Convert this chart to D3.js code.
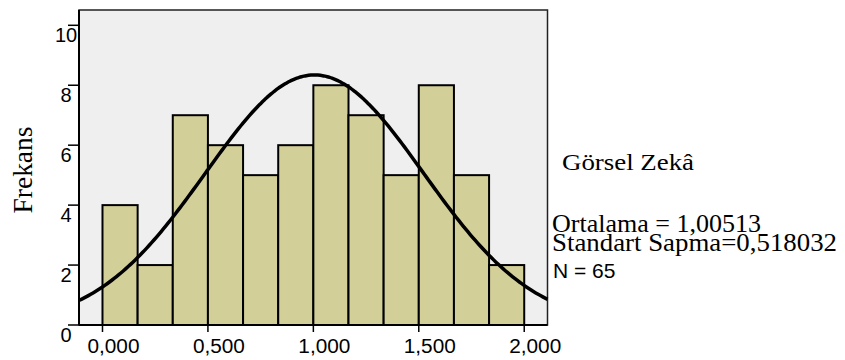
<!DOCTYPE html>
<html><head><meta charset="utf-8">
<script src="https://cdn.jsdelivr.net/npm/d3@7"></script>
<style>body{margin:0;background:#fff}svg{display:block}</style>
</head><body>
<svg id="c" width="845" height="360"></svg>
<script>
// Data
const binStarts = [0, 1/6, 2/6, 3/6, 4/6, 5/6, 1, 7/6, 8/6, 9/6, 10/6, 11/6];
const binWidth = 1/6;
const counts = [4, 2, 7, 6, 5, 6, 8, 7, 5, 8, 5, 2];
const xTicks = [0, 0.5, 1, 1.5, 2];
const xTickLabels = ["0,000", "0,500", "1,000", "1,500", "2,000"];
const yTicks = [0, 2, 4, 6, 8, 10];
const variableName = "Görsel Zekâ";
const mean = 1.00513, sd = 0.518032, n = 65;
const statLines = ["Ortalama = 1,00513", "Standart Sapma=0,518032"];
const nLabel = "N = 65";

const svg = d3.select("#c");
const L = 79, R = 547.5, T = 10, B = 325;
const x = d3.scaleLinear().domain([-0.1114, 2.1104]).range([L, R]);
const y = d3.scaleLinear().domain([0, 10]).range([B, 25.3]);

svg.append("rect").attr("x", L).attr("y", T).attr("width", R - L).attr("height", B - T)
  .attr("fill", "#efefef").attr("stroke", "#222").attr("stroke-width", 1.5);

// bars
svg.append("g").selectAll("rect").data(counts).join("rect")
  .attr("x", (d, i) => x(binStarts[i]))
  .attr("width", (d, i) => x(binStarts[i] + binWidth) - x(binStarts[i]))
  .attr("y", d => y(d)).attr("height", d => y(0) - y(d))
  .attr("fill", "#d3cf99").attr("stroke", "#000").attr("stroke-width", 2);

// normal curve
const scale = n * binWidth;
const dens = v => scale * Math.exp(-0.5 * ((v - mean) / sd) ** 2) / (sd * Math.sqrt(2 * Math.PI));
const xs = d3.range(0, 201).map(i => x.domain()[0] + (x.domain()[1] - x.domain()[0]) * i / 200);
svg.append("path").datum(xs)
  .attr("d", d3.line().x(v => x(v)).y(v => y(dens(v))).curve(d3.curveBasis))
  .attr("fill", "none").attr("stroke", "#000").attr("stroke-width", 3.5);

// axes lines
svg.append("line").attr("x1", L).attr("x2", L).attr("y1", T).attr("y2", B).attr("stroke", "#000").attr("stroke-width", 2);
svg.append("line").attr("x1", L).attr("x2", R).attr("y1", B).attr("y2", B).attr("stroke", "#000").attr("stroke-width", 2);

const sans = "Liberation Sans, Arial, sans-serif";
const serif = "Liberation Serif, Times New Roman, serif";

// y ticks
const yg = svg.append("g");
yg.selectAll("line").data(yTicks).join("line")
  .attr("x1", 68).attr("x2", L).attr("y1", d => y(d)).attr("y2", d => y(d))
  .attr("stroke", "#000").attr("stroke-width", 1.5);
yg.selectAll("text").data(yTicks).join("text")
  .attr("x", 66).attr("y", d => y(d) + 16.5).attr("text-anchor", "middle")
  .attr("font-family", sans).attr("font-size", 20)
  .text(d => d);

// x ticks
const xg = svg.append("g");
xg.selectAll("line").data(xTicks).join("line")
  .attr("x1", d => x(d)).attr("x2", d => x(d)).attr("y1", B).attr("y2", B + 7)
  .attr("stroke", "#000").attr("stroke-width", 1.5);
xg.selectAll("text").data(xTicks).join("text")
  .attr("x", d => x(d) + 11).attr("y", 353).attr("text-anchor", "middle")
  .attr("font-family", sans).attr("font-size", 20)
  .attr("textLength", 52).attr("lengthAdjust", "spacingAndGlyphs")
  .text((d, i) => xTickLabels[i]);

// y label
svg.append("text").attr("transform", "translate(32,170) rotate(-90)")
  .attr("text-anchor", "middle").attr("font-family", serif)
  .attr("font-size", 27).attr("textLength", 87).attr("lengthAdjust", "spacingAndGlyphs")
  .text("Frekans");

// right legend texts
svg.append("text").attr("x", 562).attr("y", 170).attr("font-family", serif).attr("font-size", 24)
  .attr("textLength", 132).attr("lengthAdjust", "spacingAndGlyphs").text(variableName);
svg.append("text").attr("x", 552).attr("y", 232).attr("font-family", serif).attr("font-size", 25)
  .attr("textLength", 209).attr("lengthAdjust", "spacingAndGlyphs").text(statLines[0]);
svg.append("text").attr("x", 552).attr("y", 251).attr("font-family", serif).attr("font-size", 25)
  .attr("textLength", 285).attr("lengthAdjust", "spacingAndGlyphs").text(statLines[1]);
svg.append("text").attr("x", 553).attr("y", 278).attr("font-family", sans).attr("font-size", 21)
  .text(nLabel);
</script>
</body></html>
